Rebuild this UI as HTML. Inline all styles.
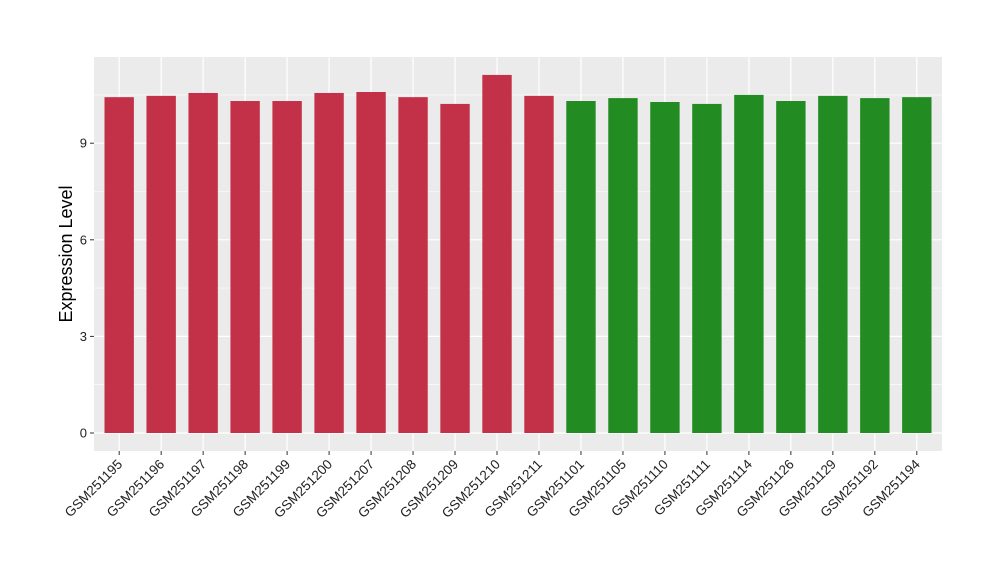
<!DOCTYPE html>
<html><head><meta charset="utf-8"><style>
body{margin:0;background:#fff;font-family:"Liberation Sans",sans-serif}
</style></head><body>
<svg id="chart" width="1000" height="580" xmlns="http://www.w3.org/2000/svg"></svg>
<script>
const categories=["GSM251195","GSM251196","GSM251197","GSM251198","GSM251199","GSM251200","GSM251207","GSM251208","GSM251209","GSM251210","GSM251211","GSM251101","GSM251105","GSM251110","GSM251111","GSM251114","GSM251126","GSM251129","GSM251192","GSM251194"];
const values=[10.43,10.47,10.56,10.31,10.31,10.56,10.59,10.43,10.22,11.12,10.47,10.31,10.40,10.28,10.22,10.50,10.31,10.47,10.40,10.43];
const groups=["a","a","a","a","a","a","a","a","a","a","a","b","b","b","b","b","b","b","b","b"];
const yTicks=[0,3,6,9];
const colors={a:"#C33149",b:"#228B22"};
const svg=document.getElementById('chart');const NS="http://www.w3.org/2000/svg";
const L=94,R=942,T=57,B=451;
const y=v=>433-v*32.2;
const band=(R-L)/(categories.length-1+1.2);
const x=i=>L+band*(i+0.6);
function mk(t,a,p){const e=document.createElementNS(NS,t);for(const k in a)e.setAttribute(k,a[k]);(p||svg).appendChild(e);return e;}
const bg=mk('rect',{x:L,y:T,width:R-L,height:B-T,fill:'#EBEBEB'});


yTicks.forEach((t,i)=>{
 const m=t+1.5;const g=mk('line',{x1:L,x2:R,y1:y(m),y2:y(m),stroke:'#fff','stroke-width':0.6});
 
 
 const gl=mk('line',{x1:L,x2:R,y1:y(t),y2:y(t),stroke:'#fff','stroke-width':1.2});
 
 
 mk('line',{x1:L-4,x2:L,y1:y(t),y2:y(t),stroke:'#333'});
 const tx=mk('text',{x:L-7,y:y(t)+4.5,'text-anchor':'end','font-size':13,fill:'#222'});tx.textContent=t;
 
 
});
categories.forEach((c,i)=>{
 const vl=mk('line',{x1:x(i),x2:x(i),y1:T,y2:B,stroke:'#fff','stroke-width':1.2});
 
 
});
categories.forEach((c,i)=>{
 const w=band*0.7;
 const r=mk('rect',{x:x(i)-w/2,y:y(values[i]),width:w,height:y(0)-y(values[i]),fill:colors[groups[i]]});
 
 
 mk('line',{x1:x(i),x2:x(i),y1:B,y2:B+4,stroke:'#333'});
 const t=mk('text',{x:x(i)+4,y:B+14,'text-anchor':'end','font-size':13.5,fill:'#222',transform:`rotate(-45 ${x(i)+4} ${B+14})`});t.textContent=c;
 
 
});
const yt=mk('text',{x:72,y:254,'text-anchor':'middle','font-size':18,fill:'#000',transform:'rotate(-90 72 254)'});yt.textContent='Expression Level';


</script>
</body></html>
